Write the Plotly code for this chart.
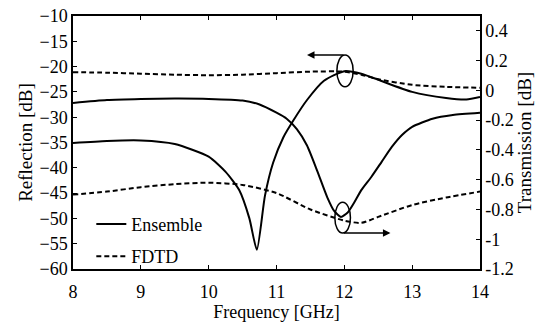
import plotly.graph_objects as go

# Reflection (left axis, dB)
refl_ens_f = [8.0, 8.5, 9.0, 9.5, 10.0, 10.25, 10.45, 10.6, 10.71, 10.83, 10.95, 11.1, 11.25, 11.45, 11.7, 12.0, 12.25, 12.5, 13.0, 13.5, 13.8, 14.0]
refl_ens = [-35.1, -34.7, -34.6, -35.3, -37.8, -40.8, -44.4, -50.0, -56.2, -45.5, -39.0, -34.0, -30.6, -26.6, -22.8, -20.9, -21.4, -22.6, -25.0, -26.2, -26.5, -26.0]

refl_fdtd_f = [8.0, 8.5, 9.0, 9.5, 10.0, 10.5, 11.0, 11.5, 12.0, 12.25, 12.5, 13.0, 13.5, 14.0]
refl_fdtd = [-21.1, -21.2, -21.4, -21.6, -21.7, -21.6, -21.3, -21.0, -21.0, -21.6, -22.5, -23.6, -24.0, -24.2]

# Transmission (right axis, dB)
trans_ens_f = [8.0, 8.5, 9.0, 9.5, 10.0, 10.5, 10.75, 11.0, 11.15, 11.3, 11.45, 11.6, 11.75, 11.85, 11.95, 12.05, 12.15, 12.25, 12.4, 12.55, 12.7, 12.85, 13.0, 13.3, 13.6, 14.0]
trans_ens = [-0.085, -0.065, -0.058, -0.055, -0.057, -0.068, -0.095, -0.150, -0.19, -0.26, -0.37, -0.54, -0.72, -0.81, -0.85, -0.82, -0.75, -0.67, -0.58, -0.48, -0.38, -0.30, -0.245, -0.19, -0.165, -0.15]

trans_fdtd_f = [8.0, 8.5, 9.0, 9.5, 10.0, 10.5, 11.0, 11.5, 12.0, 12.25, 12.5, 13.0, 13.5, 14.0]
trans_fdtd = [-0.70, -0.68, -0.65, -0.63, -0.62, -0.635, -0.69, -0.80, -0.875, -0.89, -0.85, -0.77, -0.72, -0.68]

x_ticks = [8, 9, 10, 11, 12, 13, 14]
y_left_ticks = [-10, -15, -20, -25, -30, -35, -40, -45, -50, -55, -60]
y_right_ticks = [0.4, 0.2, 0, -0.2, -0.4, -0.6, -0.8, -1, -1.2]
y_right_labels = ["0.4", "0.2", "0", "-0.2", "-0.4", "-0.6", "-0.8", "-1", "-1.2"]

FONT = "Liberation Serif"
DASH = "5px,3px"

fig = go.Figure()
fig.add_trace(go.Scatter(x=refl_ens_f, y=refl_ens, mode="lines", name="Ensemble",
                         line=dict(color="black", width=2, shape="spline", smoothing=0.6),
                         legendgroup="ens", showlegend=True))
fig.add_trace(go.Scatter(x=refl_fdtd_f, y=refl_fdtd, mode="lines", name="FDTD",
                         line=dict(color="black", width=2, dash=DASH, shape="spline", smoothing=0.7),
                         legendgroup="fdtd", showlegend=True))
fig.add_trace(go.Scatter(x=trans_ens_f, y=trans_ens, mode="lines", name="Ensemble", yaxis="y2",
                         line=dict(color="black", width=2, shape="spline", smoothing=0.6),
                         legendgroup="ens", showlegend=False))
fig.add_trace(go.Scatter(x=trans_fdtd_f, y=trans_fdtd, mode="lines", name="FDTD", yaxis="y2",
                         line=dict(color="black", width=2, dash=DASH, shape="spline", smoothing=0.7),
                         legendgroup="fdtd", showlegend=False))

# ellipses marking the curve groups, with arrows to their axes
fig.add_shape(type="circle", xref="x", yref="y", x0=11.89, x1=12.13, y0=-24.0, y1=-17.7,
              line=dict(color="black", width=1.5))
fig.add_shape(type="circle", xref="x", yref="y", x0=11.86, x1=12.09, y0=-52.9, y1=-46.8,
              line=dict(color="black", width=1.5))
fig.add_annotation(x=11.45, y=-17.7, ax=12.01, ay=-17.7, xref="x", yref="y", axref="x", ayref="y",
                   text="", showarrow=True, arrowhead=2, arrowsize=1, arrowwidth=1.5, arrowcolor="black")
fig.add_annotation(x=12.68, y=-52.9, ax=11.97, ay=-52.9, xref="x", yref="y", axref="x", ayref="y",
                   text="", showarrow=True, arrowhead=2, arrowsize=1, arrowwidth=1.5, arrowcolor="black")

axis_common = dict(showline=True, linecolor="black", linewidth=1.5, ticks="inside", ticklen=4,
                   tickcolor="black", showgrid=False, zeroline=False, automargin=False,
                   tickfont=dict(family=FONT, size=18, color="black"))

fig.update_layout(
    width=543, height=322,
    margin=dict(l=73, r=63, t=16, b=53),
    paper_bgcolor="white", plot_bgcolor="white",
    font=dict(family=FONT, size=18, color="black"),
    xaxis=dict(range=[8, 14], tickvals=x_ticks, mirror="ticks", ticklabelstandoff=6,
               title=dict(text="Frequency [GHz]", standoff=0, font=dict(family=FONT, size=18)),
               **axis_common),
    yaxis=dict(range=[-60, -10], tickvals=y_left_ticks, mirror=True,
               title=dict(text="Reflection [dB]", standoff=2, font=dict(family=FONT, size=19)),
               **axis_common),
    yaxis2=dict(range=[-1.2, 0.5], tickvals=y_right_ticks, ticktext=y_right_labels,
                overlaying="y", side="right",
                title=dict(text="Transmission [dB]", standoff=2, font=dict(family=FONT, size=19)),
                **axis_common),
    legend=dict(x=0.045, y=0.25, xanchor="left", yanchor="top", bgcolor="rgba(0,0,0,0)",
                font=dict(family=FONT, size=18), tracegroupgap=6, itemwidth=30),
    showlegend=True,
)

fig.write_html("out.html")
